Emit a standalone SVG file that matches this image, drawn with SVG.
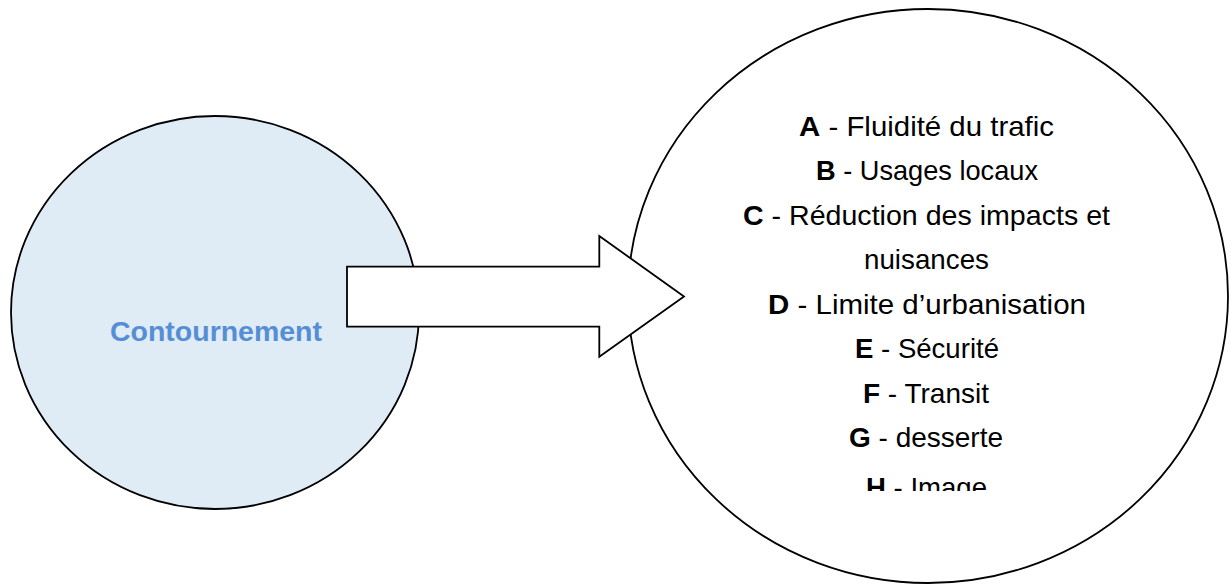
<svg xmlns="http://www.w3.org/2000/svg" width="1232" height="584" viewBox="0 0 1232 584">
<style>
.shape{stroke:#000;stroke-width:1.8}
.lbl{font-family:"Liberation Sans",Arial,sans-serif;font-size:28px;fill:#000;text-anchor:middle}
.lbl tspan.k{font-weight:bold}
.title{font-family:"Liberation Sans",Arial,sans-serif;font-size:28px;font-weight:bold;fill:#558ED5;text-anchor:middle}
</style>
<defs>
<clipPath id="clipText"><rect x="620" y="0" width="612" height="491"/></clipPath>
</defs>
<rect width="1232" height="584" fill="#fff"/>
<g id="node-contournement">
<ellipse class="shape" cx="215" cy="312.5" rx="204" ry="196.5" fill="#DFEBF5"/>
<text class="title" x="216" y="341" textLength="212" lengthAdjust="spacingAndGlyphs">Contournement</text>
</g>
<g id="node-objectifs">
<ellipse class="shape" cx="928" cy="296" rx="300" ry="287" fill="#fff"/>
<g clip-path="url(#clipText)">
<text class="lbl" x="926.5" y="135.5" textLength="255" lengthAdjust="spacingAndGlyphs"><tspan class="k">A</tspan> - Fluidité du trafic</text>
<text class="lbl" x="927" y="180" textLength="222" lengthAdjust="spacingAndGlyphs"><tspan class="k">B</tspan> - Usages locaux</text>
<text class="lbl" x="926.5" y="224.5" textLength="367" lengthAdjust="spacingAndGlyphs"><tspan class="k">C</tspan> - Réduction des impacts et</text>
<text class="lbl" x="926.5" y="269" textLength="125" lengthAdjust="spacingAndGlyphs">nuisances</text>
<text class="lbl" x="927" y="313.5" textLength="318" lengthAdjust="spacingAndGlyphs"><tspan class="k">D</tspan> - Limite d’urbanisation</text>
<text class="lbl" x="927" y="358" textLength="144" lengthAdjust="spacingAndGlyphs"><tspan class="k">E</tspan> - Sécurité</text>
<text class="lbl" x="926" y="402.5" textLength="126" lengthAdjust="spacingAndGlyphs"><tspan class="k">F</tspan> - Transit</text>
<text class="lbl" x="926" y="447" textLength="154" lengthAdjust="spacingAndGlyphs"><tspan class="k">G</tspan> - desserte</text>
<text class="lbl" x="926.5" y="497" textLength="121" lengthAdjust="spacingAndGlyphs"><tspan class="k">H</tspan> - Image</text>
</g>
</g>
<g id="connectors">
<polygon class="shape" fill="#fff" points="347,266.7 599.3,266.7 599.3,236 684,296.5 599.3,356.7 599.3,326.7 347,326.7"/>
</g>
</svg>
